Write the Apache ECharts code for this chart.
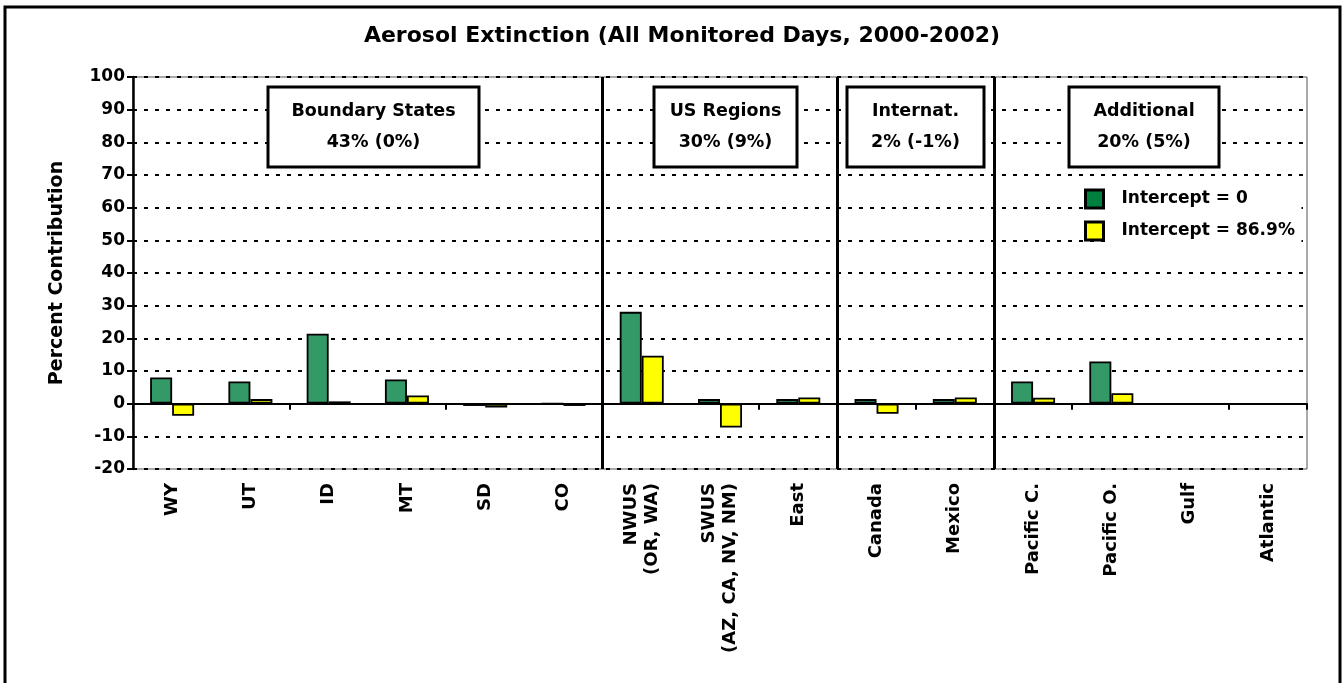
<!DOCTYPE html>
<html lang="en">

<head>
    <meta charset="UTF-8">
    <title>Aerosol Extinction</title>
    <script src="https://cdn.jsdelivr.net/npm/echarts@6.0.0/dist/echarts.min.js"></script>
    <style>
        html, body { margin: 0; padding: 0; background: #fff; }
    </style>
</head>

<body>
    <div id="echart" style="width: 1343px; height: 683px;"></div>
</body>

<script>
    // 数据
    const categories = ['WY', 'UT', 'ID', 'MT', 'SD', 'CO', 'NWUS\n(OR, WA)', 'SWUS\n(AZ, CA, NV, NM)', 'East',
        'Canada', 'Mexico', 'Pacific C.', 'Pacific O.', 'Gulf', 'Atlantic'];
    const seriesNames = ['Intercept = 0', 'Intercept = 86.9%'];
    const intercept0 = [8.0, 6.8, 21.4, 7.4, -0.7, 0, 28.1, 1.4, 1.4, 1.4, 1.4, 6.8, 12.9, null, null];
    const intercept869 = [-3.7, 1.4, 0.7, 2.5, -1.2, -0.7, 14.7, -7.3, 1.9, -3.1, 1.9, 1.8, 3.2, null, null];
    const yMin = -20, yMax = 100, yStep = 10;
    const groupBreaks = [6, 9, 11];   // 分组竖线所在的类目边界
    const groupBoxes = [
        ['Boundary States', '43% (0%)'],
        ['US Regions', '30% (9%)'],
        ['Internat.', '2% (-1%)'],
        ['Additional', '20% (5%)']
    ];

    const font = 'DejaVu Sans';
    const boxPos = [[268, 211], [654, 143], [847, 137], [1069, 150]];   // 注释框 x, 宽

    var myChart = echarts.init(document.getElementById('echart'));

    const graphics = [{
        type: 'rect',
        shape: { x: 5, y: 7, width: 1335, height: 700 },
        style: { fill: 'none', stroke: '#000', lineWidth: 3 },
        z: 0
    }];
    groupBoxes.forEach((b, i) => {
        graphics.push({
            type: 'rect',
            z: 100,
            shape: { x: boxPos[i][0], y: 87, width: boxPos[i][1], height: 80 },
            style: { fill: '#fff', stroke: '#000', lineWidth: 3 }
        });
        graphics.push({
            type: 'text',
            z: 101,
            x: boxPos[i][0] + boxPos[i][1] / 2,
            y: 127,
            style: {
                text: b.join('\n'),
                fontFamily: font,
                fontWeight: 'bold',
                fontSize: 17.5,
                lineHeight: 31,
                fill: '#000',
                align: 'center',
                verticalAlign: 'middle'
            }
        });
    });

    myChart.setOption({
        animation: false,
        title: {
            text: 'Aerosol Extinction (All Monitored Days, 2000-2002)',
            left: 677,
            top: 20,
            textAlign: 'center',
            textStyle: { fontFamily: font, fontWeight: 'bold', fontSize: 22, color: '#000' }
        },
        legend: {
            orient: 'vertical',
            left: 1084,
            top: 184,
            padding: 0,
            itemGap: 2,
            itemWidth: 18,
            itemHeight: 18,
            icon: 'rect',
            itemStyle: { borderColor: '#000', borderWidth: 3 },
            data: [
                { name: seriesNames[0], itemStyle: { color: '#00803f' } },
                { name: seriesNames[1], itemStyle: { color: '#ffff00' } }
            ],
            textStyle: {
                fontFamily: font, fontWeight: 'bold', fontSize: 17, color: '#000',
                lineHeight: 20, backgroundColor: '#fff', padding: [5, 10, 5, 13], width: 170
            }
        },
        grid: {
            left: 133, right: 36, top: 77, bottom: 214,
            show: true, borderColor: '#555', borderWidth: 1
        },
        xAxis: [{
            type: 'category',
            data: categories,
            axisLine: { onZero: true, lineStyle: { color: '#000', width: 2 } },
            axisTick: { show: true, length: 6, lineStyle: { color: '#000', width: 2 } },
            axisLabel: { show: false },
            splitLine: { show: false }
        }, {
            type: 'category',
            data: categories,
            position: 'bottom',
            axisLine: { show: false, onZero: false },
            axisTick: { show: false },
            axisLabel: {
                rotate: 90,
                margin: 14,
                interval: 0,
                fontFamily: font, fontWeight: 'bold', fontSize: 18, color: '#000',
                lineHeight: 21
            }
        }, {
            type: 'value',
            min: 0,
            max: categories.length,
            show: false
        }],
        yAxis: {
            type: 'value',
            min: yMin,
            max: yMax,
            interval: yStep,
            name: 'Percent Contribution',
            nameLocation: 'middle',
            nameGap: 66,
            nameTextStyle: { fontFamily: font, fontWeight: 'bold', fontSize: 19, color: '#000' },
            axisLine: { show: true, lineStyle: { color: '#000', width: 2.5 } },
            axisTick: { show: true, length: 6, lineStyle: { color: '#000', width: 2 } },
            axisLabel: { fontFamily: font, fontWeight: 'bold', fontSize: 17, color: '#000', margin: 8 },
            splitLine: { show: true, lineStyle: { color: '#000', width: 2, type: [4, 7] } }
        },
        series: [{
            name: seriesNames[0],
            type: 'bar',
            data: intercept0,
            barWidth: 22,
            barGap: '0%',
            itemStyle: { color: '#339966', borderColor: '#000', borderWidth: 1.8 }
        }, {
            name: seriesNames[1],
            type: 'bar',
            data: intercept869,
            barWidth: 22,
            barGap: '0%',
            itemStyle: { color: '#ffff00', borderColor: '#000', borderWidth: 1.8 }
        }, {
            name: 'groups',
            type: 'line',
            xAxisIndex: 2,
            data: [],
            silent: true,
            z: 5,
            markLine: {
                symbol: 'none',
                silent: true,
                label: { show: false },
                lineStyle: { color: '#000', width: 3, type: 'solid' },
                data: groupBreaks.map(v => ({ xAxis: v }))
            }
        }],
        graphic: graphics
    });
</script>

</html>
